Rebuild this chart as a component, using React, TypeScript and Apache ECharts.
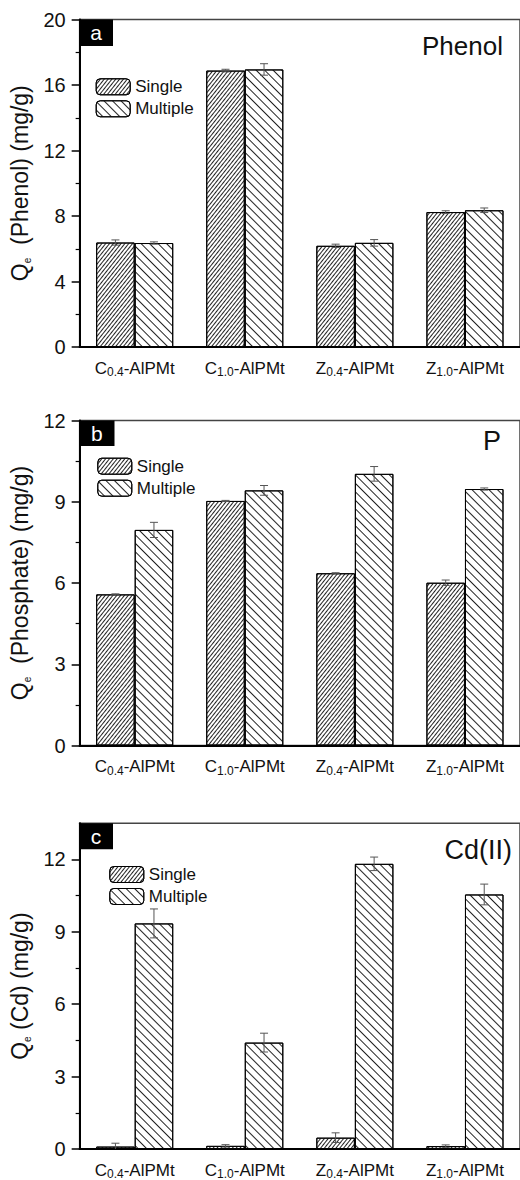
import React, { useEffect, useRef } from "react";
import * as echarts from "echarts";

const FONT = "'Liberation Sans', Arimo, Arial, sans-serif";

const catLetters = ["C", "C", "Z", "Z"];
const catSubs = ["0.4", "1.0", "0.4", "1.0"];
const categories = catLetters.map((l, i) => `${l}${catSubs[i]}-AlPMt`);

const seriesNames = ["Single", "Multiple"];

// Panel a: Phenol
const phenolSingle = [6.38, 16.88, 6.18, 8.24];
const phenolSingleErr = [0.16, 0.08, 0.1, 0.08];
const phenolMultiple = [6.35, 16.95, 6.36, 8.35];
const phenolMultipleErr = [0.07, 0.35, 0.2, 0.14];

// Panel b: Phosphate
const phosSingle = [5.58, 9.03, 6.36, 6.01];
const phosSingleErr = [0.02, 0.02, 0.02, 0.1];
const phosMultiple = [7.96, 9.42, 10.03, 9.47];
const phosMultipleErr = [0.28, 0.18, 0.27, 0.04];

// Panel c: Cd(II)
const cdSingle = [0.1, 0.13, 0.47, 0.12];
const cdSingleErr = [0.14, 0.05, 0.2, 0.05];
const cdMultiple = [9.35, 4.41, 11.82, 10.55];
const cdMultipleErr = [0.6, 0.39, 0.28, 0.43];

const yTicksA = [0, 4, 8, 12, 16, 20];
const yTicksB = [0, 3, 6, 9, 12];
const yTicksC = [0, 3, 6, 9, 12];
const yMinorC = [1.5, 4.5, 7.5, 10.5];

const decalSingle = {
  symbol: "rect",
  symbolSize: 1,
  dashArrayX: [1, 0],
  dashArrayY: [1, 2],
  rotation: -Math.PI / 3.5,
  color: "#222",
};
const decalMultiple = {
  symbol: "rect",
  symbolSize: 1,
  dashArrayX: [1, 0],
  dashArrayY: [1, 5],
  rotation: Math.PI / 4,
  color: "#222",
};

const catFormatter = (v: string) => {
  const d = v.indexOf("-");
  return `{m|${v[0]}}{s|${v.slice(1, d)}}{m|${v.slice(d)}}`;
};

const errRender = (sign: number) => (params: any, api: any) => {
  const idx = api.value(0);
  const v = api.value(1);
  const e = api.value(2);
  const catW = api.size([1, 0])[0];
  const cx = api.coord([idx, v])[0] + sign * catW * 0.175;
  const yt = api.coord([idx, v + e])[1];
  const yb = api.coord([idx, v - e])[1];
  const hw = 4;
  const style = { stroke: "#555", lineWidth: 1 };
  return {
    type: "group",
    children: [
      { type: "line", shape: { x1: cx, y1: yt, x2: cx, y2: yb }, style },
      { type: "line", shape: { x1: cx - hw, y1: yt, x2: cx + hw, y2: yt }, style },
      { type: "line", shape: { x1: cx - hw, y1: yb, x2: cx + hw, y2: yb }, style },
    ],
  };
};

export default function App() {
  const ref = useRef<HTMLDivElement>(null);
  useEffect(() => {
    if (!ref.current) return;
    const chart = echarts.init(ref.current, null, { renderer: "svg" });

    const grids = [
      { left: 79, top: 19.5, width: 443, height: 327.5 },
      { left: 79, top: 420.5, width: 443, height: 325 },
      { left: 79, top: 823.3, width: 443, height: 326.7 },
    ].map((g) => ({ ...g, show: true, borderColor: "#444", borderWidth: 1.5, backgroundColor: "transparent" }));

    const xAxes = [0, 1, 2].map((gi) => ({
      type: "category",
      gridIndex: gi,
      data: categories,
      axisLine: { lineStyle: { color: "#000", width: 2 } },
      axisTick: { show: false },
      axisLabel: {
        interval: 0,
        margin: 11,
        formatter: catFormatter,
        rich: {
          m: { fontSize: 17, fontFamily: FONT, color: "#111", lineHeight: 20 },
          s: { fontSize: 12, fontFamily: FONT, color: "#111", lineHeight: 12, verticalAlign: "bottom" },
        },
      },
    }));

    const nameRich = {
      q: { fontSize: 23, fontFamily: FONT, color: "#111", lineHeight: 26 },
      e: { fontSize: 10, fontFamily: FONT, color: "#111", lineHeight: 12, verticalAlign: "bottom" },
      t: { fontSize: 23, fontFamily: FONT, color: "#111", lineHeight: 26 },
    };

    const mkY = (gi: number, ticks: number[], max: number, interval: number, name: string, custom: boolean) => ({
      type: "value",
      gridIndex: gi,
      min: 0,
      max,
      interval,
      name,
      nameLocation: "middle",
      nameGap: 44,
      nameRotate: 90,
      nameTextStyle: { rich: nameRich },
      splitLine: { show: false },
      axisLine: { show: true, lineStyle: { color: "#000", width: 2 } },
      axisTick: custom
        ? { show: true, length: 8, lineStyle: { color: "#000", width: 1.5 }, customValues: ticks }
        : { show: true, length: 8, lineStyle: { color: "#000", width: 1.5 } },
      minorTick: custom
        ? { show: false }
        : { show: true, splitNumber: 2, length: 4, lineStyle: { color: "#000", width: 1.2 } },
      axisLabel: custom
        ? { margin: 14, fontSize: 20, fontFamily: FONT, color: "#111", customValues: ticks }
        : { margin: 14, fontSize: 20, fontFamily: FONT, color: "#111" },
    });

    const yAxes: any[] = [
      mkY(0, yTicksA, 20, 4, "{q|Q}{e|e}{t|  (Phenol) (mg/g)}", false),
      mkY(1, yTicksB, 12, 3, "{q|Q}{e|e}{t|  (Phosphate) (mg/g)}", false),
      mkY(2, yTicksC, 13.5, 3, "{q|Q}{e|e}{t| (Cd) (mg/g)}", true),
      {
        type: "value",
        gridIndex: 2,
        min: 0,
        max: 13.5,
        interval: 1.5,
        position: "left",
        splitLine: { show: false },
        axisLine: { show: false },
        axisLabel: { show: false },
        axisTick: { show: true, length: 4, lineStyle: { color: "#000", width: 1.2 }, customValues: yMinorC },
      },
    ];

    const panels = [
      { s: phenolSingle, se: phenolSingleErr, m: phenolMultiple, me: phenolMultipleErr },
      { s: phosSingle, se: phosSingleErr, m: phosMultiple, me: phosMultipleErr },
      { s: cdSingle, se: cdSingleErr, m: cdMultiple, me: cdMultipleErr },
    ];

    const series: any[] = [];
    panels.forEach((p, gi) => {
      series.push({
        type: "bar",
        name: seriesNames[0],
        xAxisIndex: gi,
        yAxisIndex: gi,
        data: p.s,
        barGap: "0%",
        barCategoryGap: "30%",
        itemStyle: { color: "#fff", borderColor: "#000", borderWidth: 1, decal: decalSingle },
      });
      series.push({
        type: "bar",
        name: seriesNames[1],
        xAxisIndex: gi,
        yAxisIndex: gi,
        data: p.m,
        barGap: "0%",
        barCategoryGap: "30%",
        itemStyle: { color: "#fff", borderColor: "#000", borderWidth: 1, decal: decalMultiple },
      });
      series.push({
        type: "custom",
        name: "errS" + gi,
        xAxisIndex: gi,
        yAxisIndex: gi,
        clip: true,
        z: 5,
        renderItem: errRender(-1),
        encode: { x: 0, y: 1 },
        data: p.s.map((v, i) => [i, v, p.se[i]]),
      });
      series.push({
        type: "custom",
        name: "errM" + gi,
        xAxisIndex: gi,
        yAxisIndex: gi,
        clip: true,
        z: 5,
        renderItem: errRender(1),
        encode: { x: 0, y: 1 },
        data: p.m.map((v, i) => [i, v, p.me[i]]),
      });
    });

    const legendPos = [
      { left: 95.7, top: 78.3 },
      { left: 97.3, top: 457.7 },
      { left: 109.3, top: 866 },
    ];
    const legends = legendPos.map((pos) => ({
      ...pos,
      orient: "vertical",
      padding: 0,
      itemWidth: 34,
      itemHeight: 16,
      itemGap: 5,
      selectedMode: false,
      data: seriesNames,
      itemStyle: { borderColor: "#000", borderWidth: 1 },
      textStyle: { fontSize: 17, fontFamily: FONT, color: "#111", lineHeight: 16 },
    }));

    const box = (x: number, y: number, w: number, h: number, letter: string) => [
      { type: "rect", left: x, top: y, shape: { width: w, height: h }, style: { fill: "#000" }, z: 20 },
      {
        type: "text",
        x: x + w / 2,
        y: y + h / 2,
        z: 21,
        style: { text: letter, fill: "#fff", font: `21px ${FONT}`, align: "center", verticalAlign: "middle" },
      },
    ];
    const title = (x: number, y: number, t: string, size: number) => ({
      type: "text",
      x,
      y,
      z: 21,
      style: { text: t, fill: "#111", font: `${size}px ${FONT}`, align: "right", verticalAlign: "middle" },
    });

    const graphic = [
      ...box(79, 19.5, 34, 26.5, "a"),
      ...box(79, 420.5, 35.5, 25.5, "b"),
      ...box(79, 823.3, 34, 26, "c"),
      title(503, 46, "Phenol", 26),
      title(501, 441, "P", 27),
      title(512, 850, "Cd(II)", 27),
    ];

    chart.setOption({
      animation: false,
      backgroundColor: "#fff",
      textStyle: { fontFamily: FONT },
      grid: grids,
      xAxis: xAxes,
      yAxis: yAxes,
      legend: legends,
      series,
      graphic,
    });
    return () => chart.dispose();
  }, []);
  return (
    <div
      ref={ref}
      style={{ position: "fixed", left: 0, top: 0, width: 520, height: 1180, background: "#fff" }}
    />
  );
}
